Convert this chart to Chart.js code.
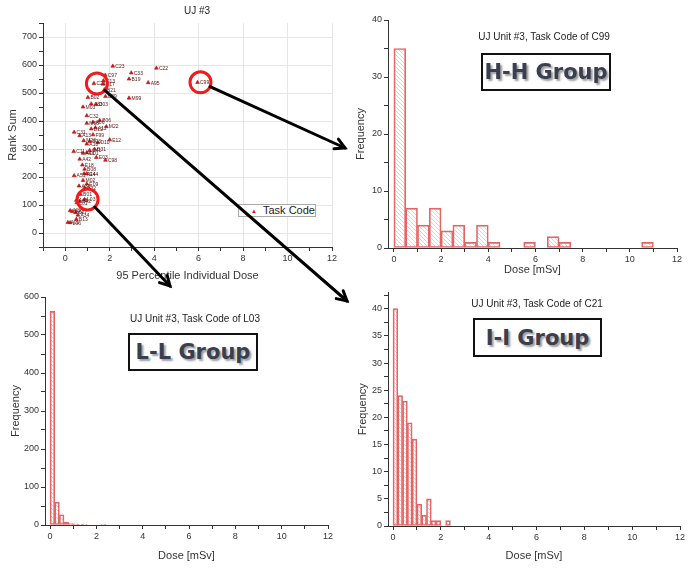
<!DOCTYPE html>
<html>
<head>
<meta charset="utf-8">
<script src="https://cdn.jsdelivr.net/npm/chart.js@4.4.0/dist/chart.umd.min.js"></script>
<style>
body { margin: 0; background: #fff; }
#page { position: relative; width: 690px; height: 572px; overflow: hidden; font-family: 'Liberation Sans', Arial, sans-serif; }
canvas { position: absolute; }
.sub { position: absolute; font-size: 10px; color: #222; transform: translate(-50%, -50%); white-space: nowrap; }
.grp { position: absolute; border: 2px solid #111; background: #fff; box-sizing: border-box; display: flex; align-items: center; justify-content: center;
       font: bold 21px 'DejaVu Sans', sans-serif; color: #3a3f50; text-shadow: 2px 2px 2px #9c9c9c; }
.legend { position: absolute; left: 238px; top: 204px; width: 78px; height: 13px; border: 1px solid #aaa; background: #fff; box-sizing: border-box; font-size: 11px; color: #222; }
.legend span.tri { position: absolute; left: 12px; top: 0px; font-size: 6px; color: #e01818; line-height: 12px; }
.legend span.txt { position: absolute; left: 24px; top: -1px; line-height: 13px; }
</style>
</head>
<body>
<div id="page">
  <canvas id="scatter" width="345" height="285" style="left:0;top:0"></canvas>
  <canvas id="histHH" width="345" height="285" style="left:345px;top:0"></canvas>
  <canvas id="histLL" width="345" height="287" style="left:0;top:285px"></canvas>
  <canvas id="histII" width="345" height="287" style="left:345px;top:285px"></canvas>

  <div class="sub" style="left:197px;top:10px">UJ #3</div>
  <div class="sub" style="left:544px;top:36px">UJ Unit #3, Task Code of C99</div>
  <div class="sub" style="left:195px;top:318px">UJ Unit #3, Task Code of L03</div>
  <div class="sub" style="left:537px;top:303px">UJ Unit #3, Task Code of C21</div>

  <div class="grp" style="left:481px;top:53px;width:130px;height:38px">H-H Group</div>
  <div class="grp" style="left:128px;top:333px;width:130px;height:38px">L-L Group</div>
  <div class="grp" style="left:473px;top:318px;width:129px;height:39px">I-I Group</div>

  <div class="legend"><span class="tri">&#9650;</span><span class="txt">Task Code</span></div>

  <canvas id="arrows" width="690" height="572" style="left:0;top:0;pointer-events:none"></canvas>
</div>

<script>
// Scatter: task codes vs 95 percentile dose and rank sum
const taskCodes = ['C23','C22','C33','C97','B19','A95','C99','C21','C13','C17',
  'B21','B39','M99','B02','A33','D03','M03','C32','M08','A06',
  'B06','D12','A12','M22','C31','A13','F99','E12','M23','B23',
  'D10','A10','B31','C41','C11','A41','D01','E03','C98','A42',
  'E18','B08','A14','E44','A51','M02','E09','A36','B32','B01',
  'A43','L01','B42','L03','A22','B22','C27','A34','B13','A01','L06'];
const p95Dose = [2.14,4.1,2.97,1.8,2.87,3.73,5.95,1.29,1.72,1.7,
  1.76,1.81,2.87,1.02,1.17,1.4,0.8,0.97,0.97,1.25,
  1.55,1.17,1.36,1.85,0.4,0.65,1.25,2.0,0.83,1.1,
  1.47,0.97,1.32,1.1,0.38,0.8,0.97,1.4,1.81,0.65,
  0.77,0.87,0.85,0.97,0.4,0.8,0.97,0.62,0.87,0.69,
  0.5,0.52,0.65,0.87,0.22,0.31,0.46,0.57,0.5,0.12,0.22];
const rankSum = [596,589,572,564,550,537,538,534,544,532,
  512,488,482,484,461,459,450,419,392,396,
  402,372,376,380,360,348,351,333,330,327,
  323,318,299,295,291,285,287,270,260,264,
  243,228,212,212,205,188,175,168,162,138,
  117,108,113,120,80,77,73,64,49,38,37];

// tasks picked out with a red circle and the arrow target (page px)
const highlighted = ['C99', 'C21', 'L03'];
const arrowTo = { C99: [345, 148], C21: [347, 301], L03: [170, 286] };

// Histograms (bin counts starting at 0 mSv)
const hhBinWidth = 0.5;
const hhCounts = [35,7,4,7,3,4,1,4,1,0,0,1,0,2,1,0,0,0,0,0,0,1];
const llBinWidth = 0.2;
const llCounts = [562,60,27,8,4,3,1,1,0,0,0,1];
const iiBinWidth = 0.2;
const iiCounts = [40,24,23,19,16,4,2,5,1,1,0,1];

Chart.defaults.font.family = "'Liberation Sans', Arial, sans-serif";
Chart.defaults.color = '#333';
Chart.defaults.animation = false;
Chart.defaults.responsive = false;
Chart.defaults.plugins.legend.display = false;
Chart.defaults.plugins.tooltip.enabled = false;

function hatch() {
    const c = document.createElement('canvas');
    c.width = 4; c.height = 4;
    const g = c.getContext('2d');
    g.strokeStyle = 'rgba(232,130,130,0.6)';
    g.lineWidth = 0.7;
    g.beginPath();
    g.moveTo(0, 0); g.lineTo(4, 4);
    g.moveTo(-1, 3); g.lineTo(1, 5);
    g.moveTo(3, -1); g.lineTo(5, 1);
    g.stroke();
    return g.createPattern(c, 'repeat');
}

// axis with ticks every `step`, labels only every `labelEvery`
function axis(opts) {
    const { min, max, step, labelEvery, title, size, grid, tpad } = opts;
    const isMajor = v => Math.abs(v / labelEvery - Math.round(v / labelEvery)) < 1e-6 && v >= 0;
    return {
        type: 'linear', min, max, offset: false,
        border: { color: '#333', width: 1 },
        grid: {
            offset: false,
            drawOnChartArea: !!grid,
            color: ctx => (grid && ctx.tick && isMajor(ctx.tick.value)) ? '#e6e6e6' : 'rgba(0,0,0,0)',
            tickColor: '#333', tickLength: 4
        },
        ticks: {
            stepSize: step, includeBounds: false, autoSkip: false, maxRotation: 0,
            font: { size: 9 }, padding: 2,
            callback: v => isMajor(v) ? String(Math.round(v)) : ''
        },
        title: { display: true, text: title, font: { size: 11 }, padding: tpad || { top: 4, bottom: 4 } },
        afterFit: s => { if (s.isHorizontal()) s.height = size; else s.width = size; }
    };
}

// Scatter plugin: point labels and red circles
const scatterMarks = {
    id: 'scatterMarks',
    afterDatasetsDraw(chart) {
        const ctx = chart.ctx;
        const meta = chart.getDatasetMeta(0);
        ctx.save();
        ctx.font = "5px 'Liberation Sans', Arial";
        ctx.fillStyle = '#5a1414';
        ctx.textBaseline = 'middle';
        meta.data.forEach((pt, i) => ctx.fillText(taskCodes[i], pt.x + 2.5, pt.y + 0.5));
        ctx.strokeStyle = '#ee1c1c';
        ctx.lineWidth = 3;
        highlighted.forEach(code => {
            const pt = meta.data[taskCodes.indexOf(code)];
            ctx.beginPath();
            ctx.arc(pt.x + 3, pt.y, 10.5, 0, Math.PI * 2);
            ctx.stroke();
        });
        ctx.restore();
    }
};

const scatterChart = new Chart(document.getElementById('scatter'), {
    type: 'scatter',
    data: {
        datasets: [{
            label: 'Task Code',
            data: taskCodes.map((c, i) => ({ x: p95Dose[i], y: rankSum[i] })),
            pointStyle: 'triangle', pointRadius: 2.2,
            backgroundColor: '#e01818', borderColor: '#a00000', borderWidth: 0.5
        }]
    },
    options: {
        layout: { padding: { top: 23, right: 13, left: 0, bottom: 0 } },
        scales: {
            x: axis({ min: -1, max: 12, step: 1, labelEvery: 2, title: '95 Percentile Individual Dose', size: 38, grid: true,
                      tpad: { top: 4, bottom: 2 } }),
            y: axis({ min: -50, max: 750, step: 50, labelEvery: 100, title: 'Rank Sum', size: 43, grid: true,
                      tpad: { top: 6, bottom: 4 } })
        }
    },
    plugins: [scatterMarks]
});

function histChart(id, binWidth, counts, cfg) {
    const pts = [];
    counts.forEach((n, i) => { if (n > 0) pts.push({ x: (i + 0.5) * binWidth, y: n }); });
    return new Chart(document.getElementById(id), {
        type: 'bar',
        data: {
            datasets: [{
                data: pts,
                backgroundColor: hatch(),
                borderColor: '#e46464', borderWidth: 1, borderSkipped: false,
                barPercentage: 1, categoryPercentage: 1
            }]
        },
        options: {
            layout: { padding: cfg.padding },
            scales: {
                x: axis({ min: cfg.xMin, max: 12, step: 1, labelEvery: 2, title: 'Dose [mSv]', size: cfg.xSize }),
                y: axis({ min: 0, max: cfg.yMax, step: cfg.yStep, labelEvery: cfg.yLabel, title: 'Frequency', size: cfg.ySize,
                          tpad: { top: cfg.yTitlePad, bottom: 4 } })
            }
        }
    });
}

histChart('histHH', hhBinWidth, hhCounts, {
    padding: { top: 20, right: 13, left: 0, bottom: 4 }, xMin: -0.25, xSize: 33,
    yMax: 40, yStep: 5, yLabel: 10, ySize: 43, yTitlePad: 9
});
histChart('histLL', llBinWidth, llCounts, {
    padding: { top: 12, right: 17, left: 0, bottom: 5 }, xMin: -0.22, xSize: 42,
    yMax: 600, yStep: 50, yLabel: 100, ySize: 45, yTitlePad: 9
});
histChart('histII', iiBinWidth, iiCounts, {
    padding: { top: 7, right: 10, left: 0, bottom: 5 }, xMin: -0.21, xSize: 41,
    yMax: 43, yStep: 2.5, yLabel: 5, ySize: 43, yTitlePad: 11
});

// Arrows from the circled tasks to their histograms
(function drawArrows() {
    const ctx = document.getElementById('arrows').getContext('2d');
    const meta = scatterChart.getDatasetMeta(0);
    ctx.strokeStyle = '#000';
    ctx.lineWidth = 3;
    ctx.lineCap = 'round';
    highlighted.forEach(code => {
        const pt = meta.data[taskCodes.indexOf(code)];
        const [x2, y2] = arrowTo[code];
        const cx = pt.x + 3, cy = pt.y;
        const a = Math.atan2(y2 - cy, x2 - cx);
        const x1 = cx + 10.5 * Math.cos(a), y1 = cy + 10.5 * Math.sin(a);
        ctx.beginPath();
        ctx.moveTo(x1, y1);
        ctx.lineTo(x2, y2);
        ctx.stroke();
        const h = 11;
        ctx.beginPath();
        ctx.moveTo(x2 - h * Math.cos(a - 0.5), y2 - h * Math.sin(a - 0.5));
        ctx.lineTo(x2, y2);
        ctx.lineTo(x2 - h * Math.cos(a + 0.5), y2 - h * Math.sin(a + 0.5));
        ctx.stroke();
    });
})();
</script>
</body>
</html>
